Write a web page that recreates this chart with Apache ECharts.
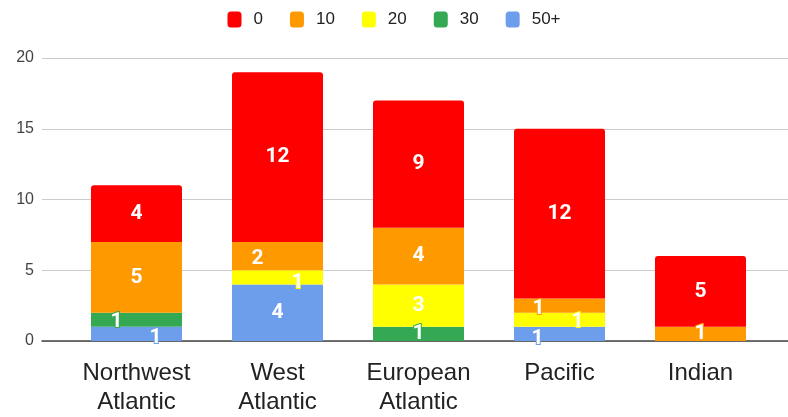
<!DOCTYPE html>
<html>
<head>
<meta charset="utf-8">
<script src="https://cdn.jsdelivr.net/npm/echarts@6/dist/echarts.min.js"></script>
<style>
  html, body { margin: 0; padding: 0; background: #fff; }
  #chart { width: 788px; height: 417px; }
</style>
</head>
<body>
<div id="chart"></div>
<script>
// Regions along the x axis
const categories = ['Northwest\nAtlantic', 'West\nAtlantic', 'European\nAtlantic', 'Pacific', 'Indian'];

// Counts per depth band (legend order: 0, 10, 20, 30, 50+)
const band0  = [4, 12, 9, 12, 5];
const band10 = [5, 2, 4, 1, 1];
const band20 = [0, 1, 3, 1, 0];
const band30 = [1, 0, 1, 0, 0];
const band50 = [1, 4, 0, 1, 0];

// Value axis ticks
const yTicks = [0, 5, 10, 15, 20];

const bandNames = ['0', '10', '20', '30', '50+'];
const bandColors = {
  '0': '#ff0000',
  '10': '#ff9900',
  '20': '#ffff00',
  '30': '#34a853',
  '50+': '#6d9eeb'
};

// Nudges for labels on thin segments so they don't overlap neighbours
const labelNudge = {
  '50+': { 0: [19, 4], 3: [-22, 5] },
  '30':  { 0: [-20, 2] },
  '20':  { 1: [20, 5], 3: [18, 2] },
  '10':  { 1: [-20, 3], 3: [-21, 3] }
};

function makeSeries(name, values, isTop) {
  const color = bandColors[name];
  const nudge = labelNudge[name] || {};
  return {
    name: name,
    type: 'bar',
    stack: 'total',
    xAxisIndex: 1,
    yAxisIndex: 1,
    barWidth: 91,
    itemStyle: {
      color: color,
      borderRadius: isTop ? [3, 3, 0, 0] : 0
    },
    label: {
      show: true,
      position: 'inside',
      color: '#ffffff',
      fontFamily: 'Roboto',
      fontWeight: 'bold',
      fontSize: 21,
      textBorderColor: color,
      textBorderWidth: 2,
      formatter: p => (p.value ? String(p.value) : '')
    },
    data: values.map((v, i) => {
      const item = { value: v };
      if (nudge[i]) item.label = { offset: nudge[i] };
      return item;
    })
  };
}

const chart = echarts.init(document.getElementById('chart'), null, { renderer: 'canvas' });

const axisMax = yTicks[yTicks.length - 1];
const axisStep = yTicks[1] - yTicks[0];

chart.setOption({
  animation: false,
  backgroundColor: '#ffffff',
  legend: {
    top: 6,
    left: 'center',
    data: bandNames,
    icon: 'roundRect',
    itemWidth: 14,
    itemHeight: 16,
    itemGap: 27,
    textStyle: {
      fontFamily: 'Liberation Sans',
      fontSize: 17,
      color: '#222',
      padding: [0, 0, 0, 7]
    }
  },
  grid: [
    // background grid: gridlines and value labels across the full width
    { left: 42, right: 0, top: 58, bottom: 76 },
    // bar area
    { left: 66, right: 17, top: 58, bottom: 76 }
  ],
  xAxis: [
    {
      gridIndex: 0,
      type: 'value',
      min: 0,
      max: 1,
      axisLine: { show: true, lineStyle: { color: '#444', width: 1.5 } },
      axisTick: { show: false },
      axisLabel: { show: false },
      splitLine: { show: false }
    },
    {
      gridIndex: 1,
      type: 'category',
      data: categories,
      axisLine: { show: false },
      axisTick: { show: false },
      axisLabel: {
        margin: 18,
        fontFamily: 'Liberation Sans',
        fontSize: 24,
        lineHeight: 29,
        color: '#222'
      }
    }
  ],
  yAxis: [
    {
      gridIndex: 0,
      type: 'value',
      min: 0,
      max: axisMax,
      interval: axisStep,
      axisLine: { show: false },
      axisTick: { show: false },
      axisLabel: { margin: 8, fontFamily: 'Liberation Sans', fontSize: 16, color: '#444' },
      splitLine: { lineStyle: { color: '#cccccc', width: 1 } }
    },
    {
      gridIndex: 1,
      type: 'value',
      min: 0,
      max: axisMax,
      interval: axisStep,
      show: false,
      splitLine: { show: false }
    }
  ],
  series: [
    makeSeries('50+', band50, false),
    makeSeries('30', band30, false),
    makeSeries('20', band20, false),
    makeSeries('10', band10, false),
    makeSeries('0', band0, true)
  ]
});
</script>
</body>
</html>
